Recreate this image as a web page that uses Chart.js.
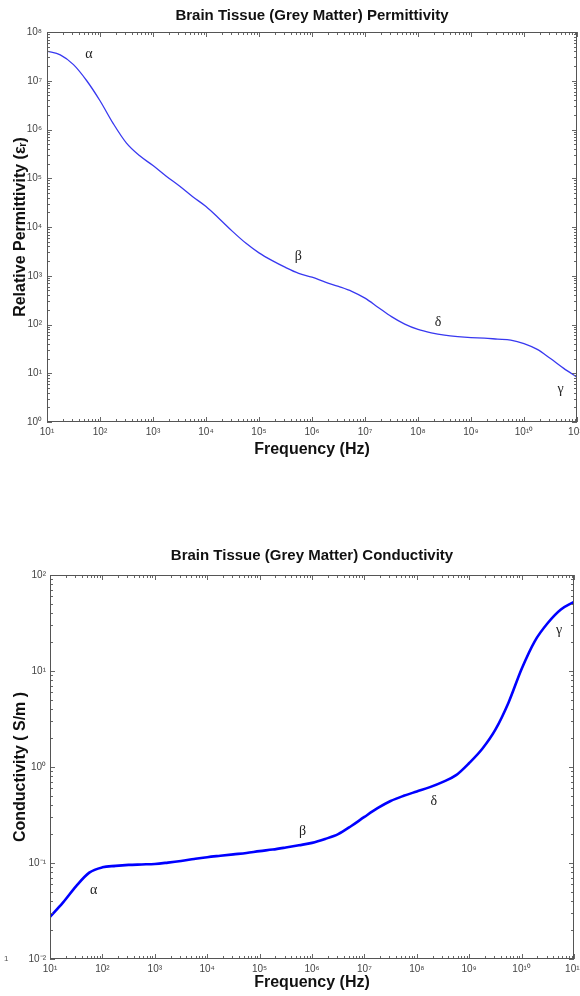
<!DOCTYPE html>
<html>
<head>
<meta charset="utf-8">
<script src="https://cdn.jsdelivr.net/npm/chart.js@4"></script>
<style>
  body { margin: 0; background: #fff; }
  .box { position: absolute; left: 0; width: 580px; }
  .stray { position: absolute; left: 4px; top: 954px; font: 8px "Liberation Sans", Arial, sans-serif; color: #555; }
</style>
</head>
<body>
<div class="box" style="top:0"><canvas id="permChart" width="580" height="470"></canvas></div>
<div class="box" style="top:520px"><canvas id="condChart" width="580" height="476"></canvas></div>
<span class="stray">1</span>
<script>
// frequency grid (Hz), quarter-decade steps
const freqs = [10, 17.8, 31.6, 56.2, 100, 178, 316, 562, 1e3, 1.78e3, 3.16e3, 5.62e3,
  1e4, 1.78e4, 3.16e4, 5.62e4, 1e5, 1.78e5, 3.16e5, 5.62e5, 1e6, 1.78e6, 3.16e6, 5.62e6,
  1e7, 1.78e7, 3.16e7, 5.62e7, 1e8, 1.78e8, 3.16e8, 5.62e8, 1e9, 1.78e9, 3.16e9, 5.62e9,
  1e10, 1.78e10, 3.16e10, 5.62e10, 1e11];

const permittivity = [4.07e7, 3.39e7, 2.14e7, 1.0e7, 3.89e6, 1.32e6, 5.25e5, 2.88e5, 1.82e5, 1.10e5, 6.92e4, 4.17e4,
  2.63e4, 1.48e4, 8.13e3, 4.68e3, 2.95e3, 2.04e3, 1.48e3, 1.12e3, 933, 741, 603, 479,
  347, 224, 145, 102, 79.4, 67.6, 60.3, 56.2, 53.7, 52.5, 50.1, 47.9,
  40.7, 30.9, 20.0, 12.6, 8.32];

const conductivity = [0.0275, 0.0389, 0.0575, 0.0794, 0.0902, 0.0933, 0.0955, 0.0966, 0.0977, 0.101, 0.105, 0.110,
  0.115, 0.119, 0.123, 0.127, 0.133, 0.138, 0.145, 0.153, 0.162, 0.178, 0.200, 0.243,
  0.302, 0.372, 0.442, 0.501, 0.556, 0.617, 0.700, 0.822, 1.10, 1.55, 2.45, 4.68,
  10.5, 20.4, 31.6, 43.7, 52.5];

// dispersion region markers (data coordinates)
const regionNames = ['α', 'β', 'δ', 'γ'];
const permRegionFreqs = [62, 5.5e5, 2.4e8, 4.9e10];
const permRegionValues = [3.5e7, 2450, 110, 4.6];
const condRegionFreqs = [68, 6.6e5, 2.1e8, 5.2e10];
const condRegionValues = [0.0525, 0.214, 0.437, 26.3];

const SUP = {'0': '⁰', '1': '¹', '2': '²', '3': '³', '4': '⁴', '5': '⁵', '6': '⁶', '7': '⁷', '8': '⁸', '9': '⁹', '-': '⁻'};
const FONT = '"Liberation Sans", Arial, sans-serif';

function isPow10(v) {
  const e = Math.log10(v);
  return Math.abs(e - Math.round(e)) < 1e-6;
}

function powerLabel(v) {
  if (!isPow10(v)) return '';
  return '10' + String(Math.round(Math.log10(v))).split('').map(c => SUP[c]).join('');
}

function isWholeMantissa(v) {
  const m = v / Math.pow(10, Math.floor(Math.log10(v) + 1e-9));
  return Math.abs(m - Math.round(m)) < 1e-6;
}

// matlab-like box with inward ticks on all four sides
const boxTicks = {
  id: 'boxTicks',
  afterDraw(chart) {
    const {ctx, chartArea: a, scales: {x, y}} = chart;
    ctx.save();
    ctx.strokeStyle = '#666';
    ctx.lineWidth = 1;
    ctx.beginPath();
    x.ticks.forEach(t => {
      if (!isWholeMantissa(t.value)) return;
      const px = Math.round(x.getPixelForValue(t.value)) + 0.5;
      const len = isPow10(t.value) ? 5 : 3;
      ctx.moveTo(px, a.bottom); ctx.lineTo(px, a.bottom - len);
      ctx.moveTo(px, a.top); ctx.lineTo(px, a.top + len);
    });
    y.ticks.forEach(t => {
      if (!isWholeMantissa(t.value)) return;
      const py = Math.round(y.getPixelForValue(t.value)) + 0.5;
      const len = isPow10(t.value) ? 5 : 3;
      ctx.moveTo(a.left, py); ctx.lineTo(a.left + len, py);
      ctx.moveTo(a.right, py); ctx.lineTo(a.right - len, py);
    });
    ctx.stroke();
    ctx.strokeStyle = '#555';
    ctx.strokeRect(Math.round(a.left) + 0.5, Math.round(a.top) + 0.5, Math.round(a.width) - 1, Math.round(a.height) - 1);
    ctx.restore();
  }
};

const regionLabels = {
  id: 'regionLabels',
  afterDatasetsDraw(chart, args, opts) {
    const {ctx, scales: {x, y}} = chart;
    ctx.save();
    ctx.font = '14px "Liberation Serif", "Times New Roman", serif';
    ctx.fillStyle = '#222';
    ctx.textAlign = 'center';
    ctx.textBaseline = 'middle';
    opts.names.forEach((n, i) => {
      ctx.fillText(n, x.getPixelForValue(opts.freqs[i]), y.getPixelForValue(opts.values[i]));
    });
    ctx.restore();
  }
};

function makeChart(id, cfg) {
  const ctx = document.getElementById(id).getContext('2d');
  return new Chart(ctx, {
    type: 'line',
    data: {
      datasets: [{
        data: freqs.map((f, i) => ({x: f, y: cfg.values[i]})),
        borderColor: cfg.color,
        borderWidth: cfg.lineWidth,
        pointRadius: 0,
        cubicInterpolationMode: 'monotone',
        fill: false
      }]
    },
    options: {
      responsive: false,
      animation: false,
      layout: {
        autoPadding: false,
        padding: {left: 0, right: cfg.rightPad, top: 0, bottom: 0}
      },
      plugins: {
        legend: {display: false},
        tooltip: {enabled: false},
        title: {
          display: true,
          text: cfg.title,
          fullSize: false,
          color: '#111',
          font: {family: FONT, size: 15, weight: 'bold'},
          padding: {top: cfg.titleTop, bottom: cfg.titleBottom}
        },
        regionLabels: {names: regionNames, freqs: cfg.regionFreqs, values: cfg.regionValues}
      },
      scales: {
        x: {
          type: 'logarithmic',
          min: 10,
          max: 1e11,
          grid: {display: false, drawTicks: false},
          border: {display: false},
          ticks: {
            autoSkip: false,
            maxRotation: 0,
            padding: 4,
            color: '#444',
            font: {family: FONT, size: 10},
            callback: v => powerLabel(v)
          },
          title: {
            display: true,
            text: 'Frequency (Hz)',
            color: '#111',
            font: {family: FONT, size: 16, weight: 'bold'},
            padding: {top: 0, bottom: cfg.xTitleBottom}
          },
          afterFit: s => {
            s.height = cfg.xAxisHeight;
            s.paddingLeft = 0;
            s.paddingRight = 0;
          }
        },
        y: {
          type: 'logarithmic',
          min: cfg.yMin,
          max: cfg.yMax,
          grid: {display: false, drawTicks: false},
          border: {display: false},
          ticks: {
            autoSkip: false,
            padding: cfg.yTickPad,
            color: '#444',
            font: {family: FONT, size: 10},
            callback: v => powerLabel(v)
          },
          title: {
            display: true,
            text: cfg.yTitle,
            color: '#111',
            font: {family: FONT, size: 16, weight: 'bold'},
            padding: {top: 11.4, bottom: 0}
          },
          afterFit: s => {
            s.width = cfg.yAxisWidth;
            s.paddingTop = 0;
            s.paddingBottom = 0;
          }
        }
      }
    },
    plugins: [boxTicks, regionLabels]
  });
}

makeChart('permChart', {
  values: permittivity,
  color: '#3838f0',
  lineWidth: 1.3,
  title: 'Brain Tissue (Grey Matter) Permittivity',
  titleTop: 7,
  titleBottom: 7,
  rightPad: 3,
  xAxisHeight: 48,
  xTitleBottom: 10.4,
  yAxisWidth: 47,
  yTickPad: 5,
  yMin: 1,
  yMax: 1e8,
  yTitle: 'Relative Permittivity (εᵣ)',
  regionFreqs: permRegionFreqs,
  regionValues: permRegionValues
});

makeChart('condChart', {
  values: conductivity,
  color: '#0000ff',
  lineWidth: 2.6,
  title: 'Brain Tissue (Grey Matter) Conductivity',
  titleTop: 27,
  titleBottom: 10,
  rightPad: 6,
  xAxisHeight: 37,
  xTitleBottom: 3.4,
  yAxisWidth: 50,
  yTickPad: 4,
  yMin: 0.01,
  yMax: 100,
  yTitle: 'Conductivity ( S/m )',
  regionFreqs: condRegionFreqs,
  regionValues: condRegionValues
});
</script>
</body>
</html>
